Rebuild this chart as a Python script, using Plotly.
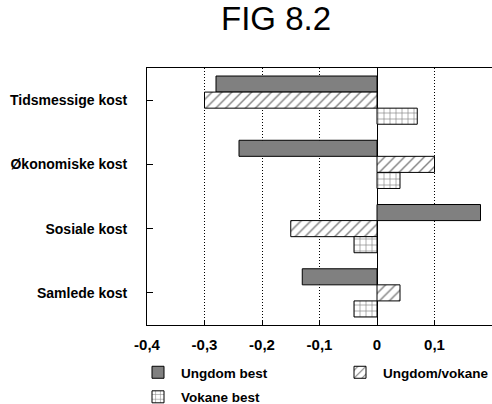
import plotly.graph_objects as go

categories = ["Tidsmessige kost", "Økonomiske kost", "Sosiale kost", "Samlede kost"]
ungdom_best = [-0.28, -0.24, 0.18, -0.13]
ungdom_vokane = [-0.30, 0.10, -0.15, 0.04]
vokane_best = [0.07, 0.04, -0.04, -0.04]
tick_vals = [-0.4, -0.3, -0.2, -0.1, 0, 0.1, 0.2]
tick_text = ["-0,4", "-0,3", "-0,2", "-0,1", "0", "0,1", "0,2"]

FONT = "Liberation Sans"
W, H = 492, 404
line = dict(color="black", width=1)

fig = go.Figure()
fig.add_trace(go.Bar(
    y=categories, x=ungdom_best, name="Ungdom best", orientation="h",
    marker=dict(color="#808080", line=line),
    legend="legend", legendgroup="a"))
fig.add_trace(go.Bar(
    y=categories, x=ungdom_vokane, name="Ungdom/vokane", orientation="h",
    marker=dict(color="white", line=line,
                pattern=dict(shape="/", fgcolor="black", bgcolor="white",
                             size=7, solidity=0.2)),
    legend="legend2", legendgroup="b"))
fig.add_trace(go.Bar(
    y=categories, x=vokane_best, name="Vokane best", orientation="h",
    marker=dict(color="white", line=line,
                pattern=dict(shape="+", fgcolor="black", bgcolor="white",
                             size=6, solidity=0.2)),
    legend="legend", legendgroup="c"))

legfont = dict(family=FONT, size=13.5, color="black", weight="bold")
fig.update_layout(
    width=W, height=H,
    margin=dict(l=146.5, r=0, t=68.3, b=H - 325, autoexpand=False),
    paper_bgcolor="white", plot_bgcolor="white",
    barmode="group", bargap=0.25, bargroupgap=0,
    font=dict(family=FONT, size=14, color="black"),
    title=dict(text="FIG 8.2", xref="container", yref="container",
               x=276 / W, xanchor="center",
               y=1 - 7 / H, yanchor="top", pad=dict(t=0, b=0, l=0, r=0),
               font=dict(family=FONT, size=33, color="black")),
    showlegend=True,
    legend=dict(xref="container", yref="container",
                x=(158 - 23) / W, xanchor="left",
                y=1 - (373 - 16) / H, yanchor="top",
                orientation="v", traceorder="grouped", tracegroupgap=4,
                itemwidth=36, font=legfont, bgcolor="rgba(0,0,0,0)"),
    legend2=dict(xref="container", yref="container",
                 x=(360 - 23) / W, xanchor="left",
                 y=1 - (373 - 16) / H, yanchor="top",
                 orientation="v", itemwidth=36, font=legfont,
                 bgcolor="rgba(0,0,0,0)"),
)

fig.update_xaxes(
    range=[-0.4, 0.2], tickvals=tick_vals, ticktext=tick_text,
    showgrid=True, gridcolor="black", gridwidth=1, griddash="1px,2px",
    zeroline=True, zerolinecolor="black", zerolinewidth=1,
    showline=True, linecolor="black", linewidth=1, mirror=True,
    ticks="inside", ticklen=5, tickcolor="black", automargin=False,
    tickfont=dict(family=FONT, size=15, color="black", weight="bold"),
    ticklabelstandoff=6,
)
fig.update_yaxes(
    autorange="reversed", categoryorder="array", categoryarray=categories,
    showline=True, linecolor="black", linewidth=1, mirror=False,
    ticks="inside", ticklen=6, tickcolor="black", showgrid=False,
    automargin=False,
    tickfont=dict(family=FONT, size=14, color="black", weight="bold"),
    ticklabelstandoff=16,
)

fig.write_html("out.html", config={"displayModeBar": False},
               post_script="document.body.style.margin='0px';")
